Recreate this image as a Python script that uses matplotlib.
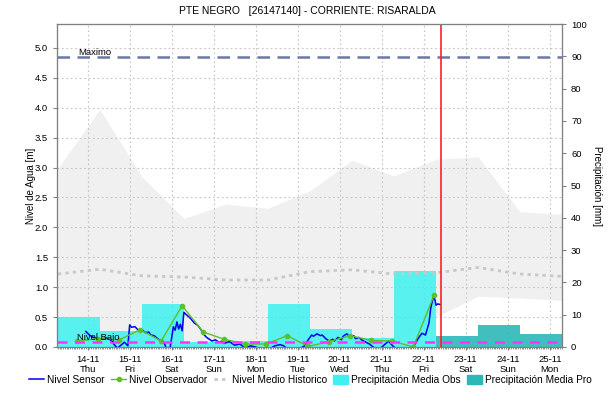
import pandas as pd
import matplotlib
matplotlib.use("Agg")
import matplotlib.pyplot as plt
import matplotlib.dates as mdates
from matplotlib.lines import Line2D
from matplotlib.patches import Patch

plt.rcParams["font.family"] = ["Liberation Sans", "DejaVu Sans"]

titulo = "PTE NEGRO   [26147140] - CORRIENTE: RISARALDA"
inicio = pd.Timestamp("2024-11-14 00:00")

# Nivel del sensor (horas desde el 14-11 00:00, metros)
sensor_horas = [-1, 1, 4, 7, 11, 13, 14, 17, 19, 21, 23, 24, 25, 27, 29, 31, 33, 35, 36, 38,
                40, 42, 44, 45, 47, 49, 50, 51, 52, 53, 54, 55, 56, 58, 59, 61, 63, 65, 66, 68,
                69, 71, 73, 75, 77, 78, 81, 84, 87, 90, 93, 96, 98, 101, 104, 107, 110, 112, 114, 119,
                121, 124, 126, 128, 129, 131, 133, 134, 136, 138, 140, 141, 143, 145, 146, 148, 150, 152, 153, 155,
                157, 159, 161, 164, 167, 170, 172, 173, 176, 181, 186, 189, 191, 193, 195, 196, 197.5, 198.5, 199, 200,
                201.5]
sensor_nivel = [0.26, 0.20, 0.15, 0.13, 0.15, 0.12, 0.08, -0.02, 0.03, 0.08, 0.02, 0.37, 0.33, 0.34, 0.28, 0.29, 0.24, 0.25, 0.20, 0.19,
                0.14, 0.10, 0.05, -0.03, -0.03, 0.34, 0.28, 0.42, 0.30, 0.38, 0.27, 0.58, 0.55, 0.50, 0.47, 0.40, 0.36, 0.28, 0.22, 0.16,
                0.14, 0.10, 0.12, 0.08, 0.10, 0.06, 0.09, 0.03, 0.05, -0.02, 0.02, 0.00, -0.03, -0.03, -0.03, 0.02, 0.04, 0.02, -0.03, -0.03,
                -0.03, 0.02, 0.12, 0.20, 0.18, 0.22, 0.19, 0.20, 0.14, 0.10, 0.13, 0.10, 0.16, 0.12, 0.18, 0.22, 0.17, 0.19, 0.14, 0.16,
                0.11, 0.08, 0.05, -0.02, -0.03, 0.05, 0.10, 0.06, -0.03, -0.03, 0.00, 0.15, 0.23, 0.20, 0.40, 0.65, 0.84, 0.78, 0.70, 0.72,
                0.71]

# Lecturas del observador (06:00 y 18:00)
obs_horas = [-6, 6, 18, 30, 42, 54, 66, 78, 90, 102, 114, 126, 138, 150, 162, 174, 186, 198]
obs_nivel = [0.10, 0.14, 0.12, 0.29, 0.10, 0.69, 0.25, 0.13, 0.05, 0.05, 0.19, 0.01, 0.09, 0.19, 0.11, 0.10, 0.00, 0.87]

# Historico diario (07:00)
hist_horas = [-17, 7, 31, 55, 79, 103, 127, 151, 175, 199, 223, 247, 271]
hist_max = [2.99, 3.97, 2.85, 2.15, 2.39, 2.32, 2.61, 3.12, 2.86, 3.14, 3.18, 2.26, 2.22]
hist_min = [0.10, 0.08, 0.05, 0.02, 0.03, 0.02, 0.05, 0.05, 0.00, 0.50, 0.85, 0.82, 0.78]
hist_medio = [1.22, 1.30, 1.19, 1.17, 1.12, 1.12, 1.26, 1.29, 1.22, 1.24, 1.33, 1.22, 1.18]

# Precipitacion diaria de 07:00 a 07:00 (mm)
lluvia_obs_horas = [-41, -17, 7, 31, 55, 79, 103, 127, 151, 175]
lluvia_obs = [33.5, 9.3, 4.9, 13.3, 1.5, 1.9, 13.3, 5.5, 2.7, 23.5]
lluvia_pro_horas = [199, 223, 247]
lluvia_pro = [3.4, 6.8, 4.0]

nivel_maximo = 4.85
nivel_bajo = 0.08
ahora_horas = 202


def a_num(horas):
    return mdates.date2num(inicio + pd.to_timedelta(horas, unit="h"))


fig = plt.figure(figsize=(6.15, 4.04), dpi=100)
rect = [57 / 615, 1 - 347 / 404, 505 / 615, 323 / 404]
ax = fig.add_axes(rect)
axp = ax.twinx()
axl = ax.twinx()

gris = "#808080"

# fondo: banda historica y rejilla
ax.fill_between(a_num(hist_horas), hist_min, hist_max, color="#f0f0f0", lw=0)
ax.set_ylim(0, 5.4)
ax.set_yticks([i * 0.5 for i in range(11)])
ax.yaxis.set_major_formatter(plt.FormatStrFormatter("%.1f"))
ax.grid(True, color="#c4c4c4", linestyle=(0, (1.5, 2.5)), linewidth=0.8)
ax.set_ylabel("Nivel de Agua [m]", fontsize=7, labelpad=-1)

# precipitacion en el eje derecho
axp.bar(a_num(lluvia_obs_horas), lluvia_obs, width=1.0, align="edge",
        color="#3ef0f0", alpha=0.85, lw=0)
axp.bar(a_num(lluvia_pro_horas), lluvia_pro, width=1.0, align="edge",
        color="#2cb8b8", alpha=0.9, lw=0)
axp.set_ylim(0, 100)
axp.set_yticks(range(0, 101, 10))
axp.set_ylabel("Precipitación [mm]", fontsize=7, rotation=270, labelpad=11)

# niveles
axl.set_ylim(ax.get_ylim())
axl.yaxis.set_visible(False)
axl.plot(a_num(hist_horas), hist_medio, color="#c8c8c8", lw=2, linestyle=(0, (1.2, 1.5)))
axl.plot(a_num(sensor_horas), sensor_nivel, color="#0000ee", lw=1.1)
axl.plot(a_num(obs_horas), obs_nivel, color="#5cc02a", lw=1, marker="o", markersize=3)
axl.axhline(nivel_maximo, color="#6a78a8", lw=1.8, dashes=(5, 3))
axl.axhline(nivel_bajo, color="#ff33ff", lw=1.8, dashes=(4, 3))
axl.axvline(a_num(ahora_horas), color="#ff2020", lw=1.2)
axl.text(0.042, nivel_maximo + 0.0, "Maximo", transform=axl.get_yaxis_transform(),
         fontsize=6.8, va="bottom")
axl.text(0.04, nivel_bajo + 0.0, "Nivel Bajo", transform=axl.get_yaxis_transform(),
         fontsize=6.8, va="bottom")

ax.set_xlim(a_num(-17.5), a_num(271))
ax.xaxis_date()
ax.xaxis.set_major_locator(mdates.DayLocator())
ax.xaxis.set_minor_locator(mdates.HourLocator())
ax.xaxis.set_major_formatter(mdates.DateFormatter("%d-%m\n%a"))

for a in (ax, axp, axl):
    for s in a.spines.values():
        s.set_color(gris)
ax.tick_params(axis="both", which="major", labelsize=6.8, color=gris, length=3)
ax.tick_params(axis="x", which="major", length=2)
ax.tick_params(axis="x", which="minor", length=1.5, width=0.6, color=gris)
axp.tick_params(axis="y", labelsize=6.8, color=gris, length=3)

fig.suptitle(titulo, fontsize=7.5, y=0.985)

handles = [
    Line2D([], [], color="#0000ee", lw=1.1),
    Line2D([], [], color="#5cc02a", lw=1, marker="o", markersize=3),
    Line2D([], [], color="#c8c8c8", lw=2, linestyle=(0, (1.2, 1.5))),
    Patch(color="#3ef0f0"),
    Patch(color="#2cb8b8"),
]
labels = ["Nivel Sensor", "Nivel Observador", "Nivel Medio Historico",
          "Precipitación Media Obs", "Precipitación Media Pro"]
fig.legend(handles, labels, loc="center", bbox_to_anchor=(0.505, 0.06), ncol=5,
           frameon=False, fontsize=7.3, handlelength=1.5, handletextpad=0.3,
           columnspacing=0.6, handleheight=1.0)

fig.savefig("out.png", dpi=100)
